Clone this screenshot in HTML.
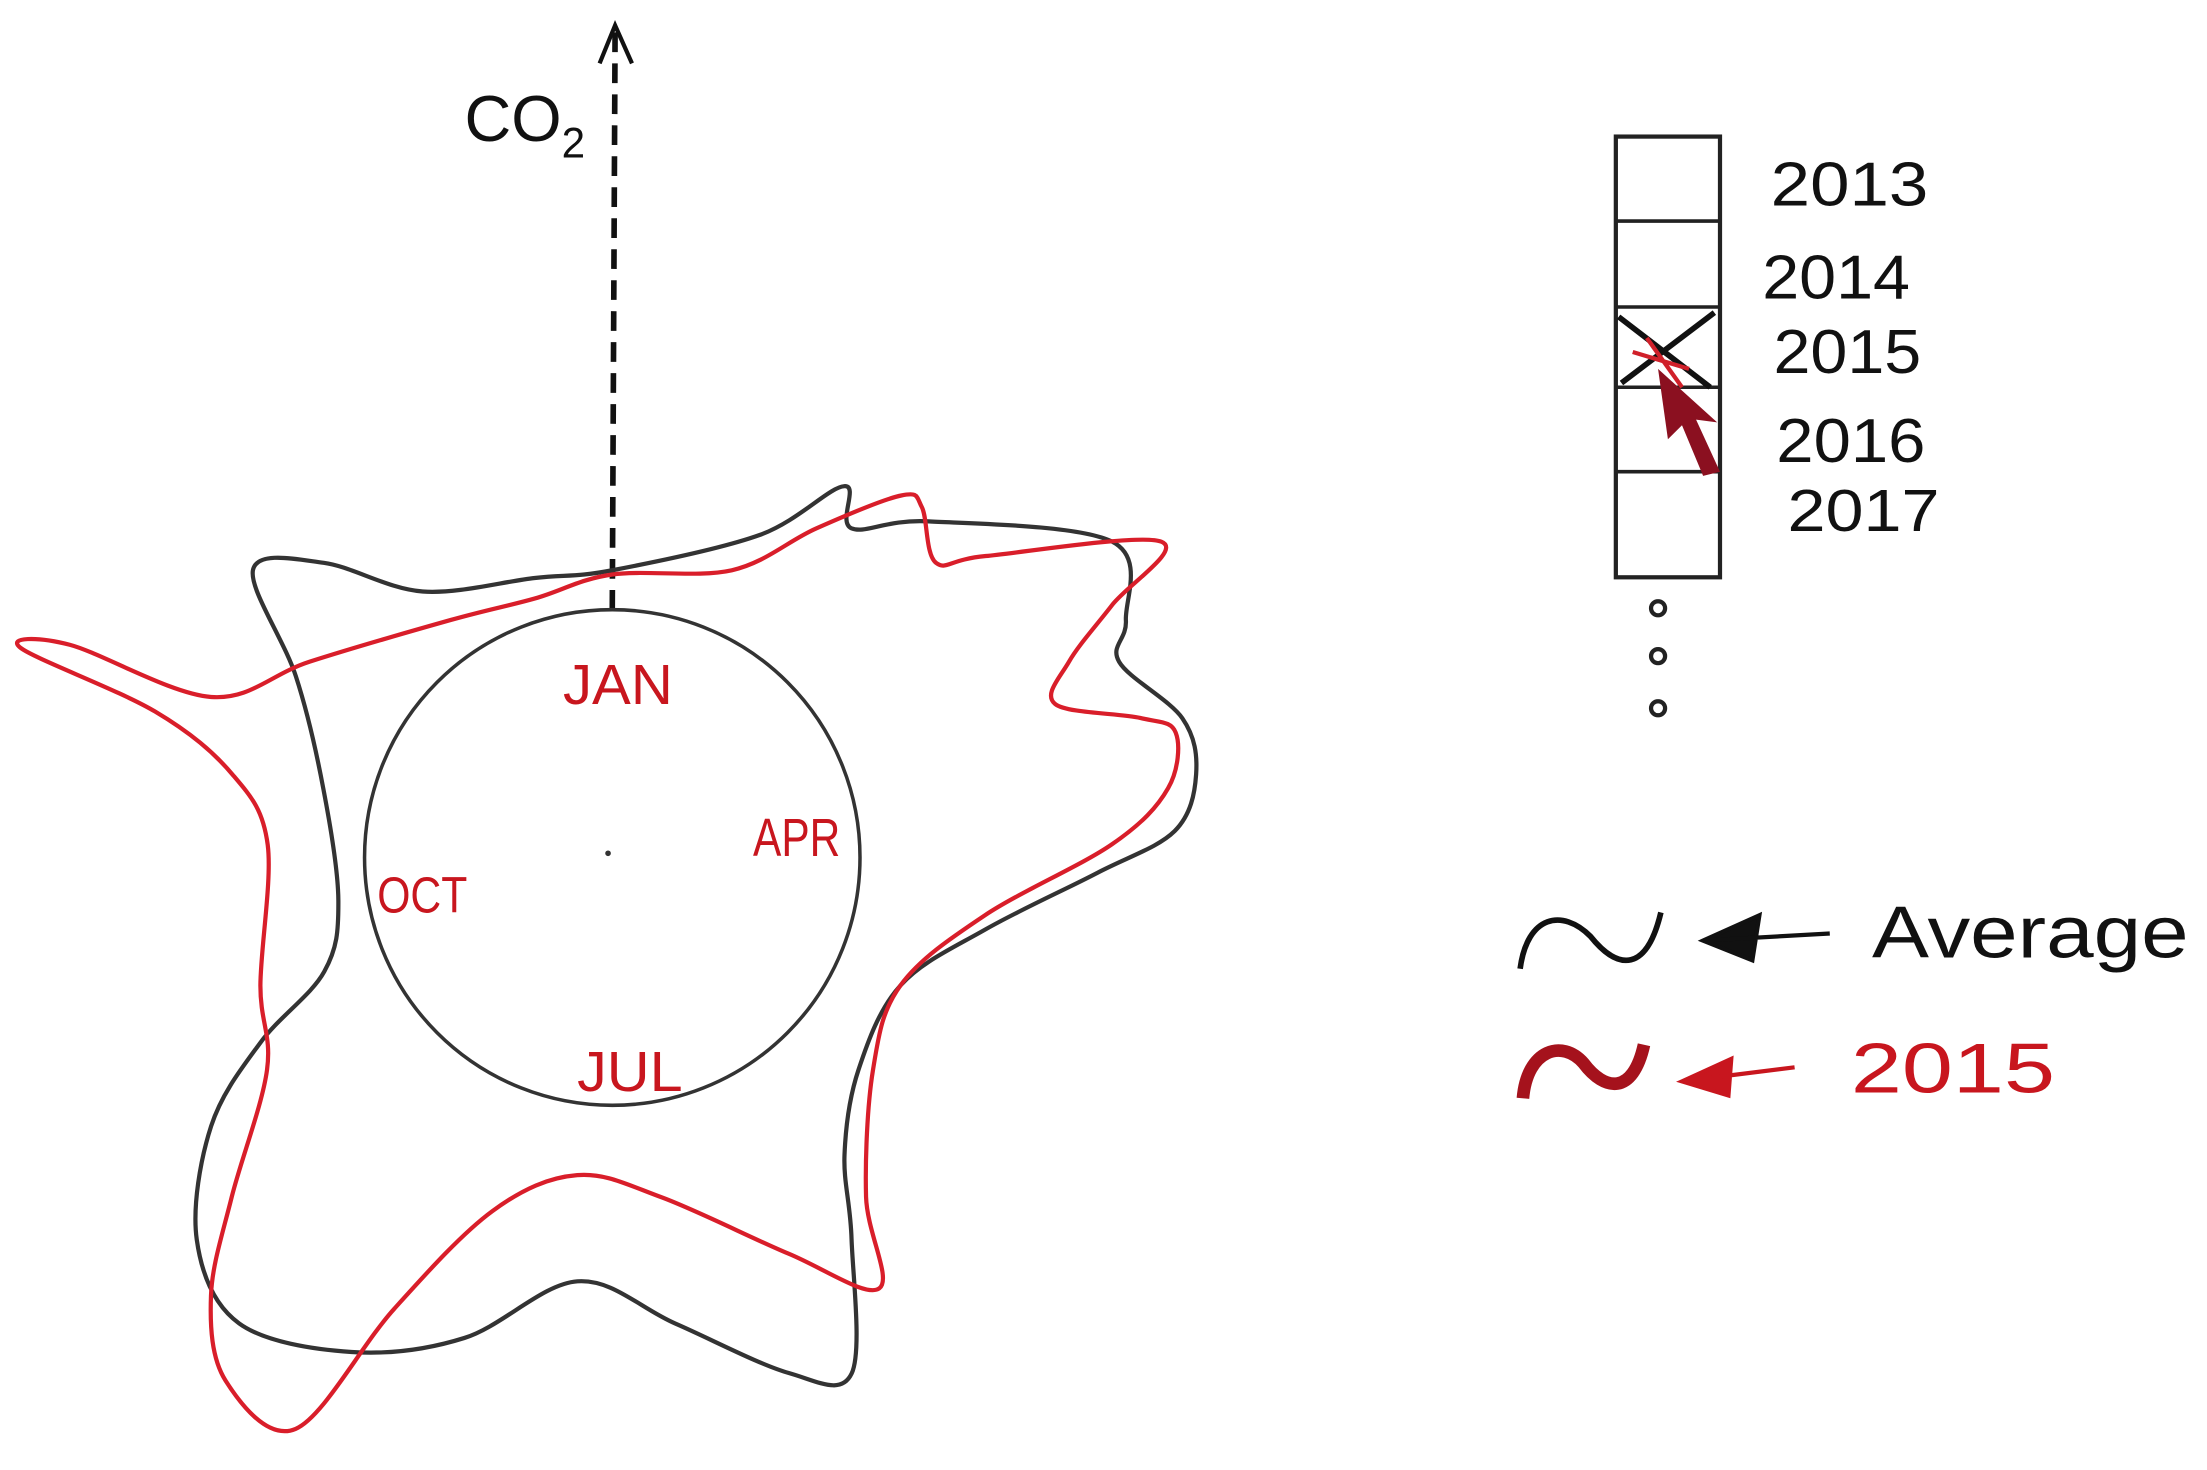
<!DOCTYPE html>
<html><head><meta charset="utf-8"><style>
html,body{margin:0;padding:0;background:#fff;}
svg{display:block;}
text{font-family:"Liberation Sans",sans-serif;}
</style></head><body>
<svg id="chart" width="2207" height="1470" viewBox="0 0 1568 1044" preserveAspectRatio="none" xmlns="http://www.w3.org/2000/svg">
<rect width="1568" height="1044" fill="#fff"/>
<g id="plot">
  <line x1="435" y1="433" x2="437" y2="22" stroke="#111" stroke-width="4" stroke-dasharray="14,8"/>
  <path d="M426 45 L437 18 L449 45" fill="none" stroke="#111" stroke-width="3"/>
  <text x="330" y="100" font-size="46" fill="#111">CO<tspan font-size="30" dy="12">2</tspan></text>
  <circle cx="435" cy="609" r="176" fill="none" stroke="#333" stroke-width="2.5"/>
  <circle cx="432" cy="606" r="2" fill="#333"/>
  <text x="400" y="500" font-size="40" fill="#c8161e" textLength="78" lengthAdjust="spacingAndGlyphs">JAN</text>
  <text x="535" y="608" font-size="38" fill="#c8161e" textLength="62" lengthAdjust="spacingAndGlyphs">APR</text>
  <text x="410" y="775" font-size="40" fill="#c8161e" textLength="75" lengthAdjust="spacingAndGlyphs">JUL</text>
  <text x="268" y="648" font-size="36" fill="#c8161e" textLength="64" lengthAdjust="spacingAndGlyphs">OCT</text>
</g>
<g id="legend">
  <rect x="1148" y="97" width="74" height="313" fill="none" stroke="#222" stroke-width="3"/>
  <line x1="1148" y1="157" x2="1222" y2="157" stroke="#222" stroke-width="2.5"/>
  <line x1="1148" y1="218" x2="1222" y2="218" stroke="#222" stroke-width="2.5"/>
  <line x1="1148" y1="275" x2="1222" y2="275" stroke="#222" stroke-width="2.5"/>
  <line x1="1148" y1="335" x2="1222" y2="335" stroke="#222" stroke-width="2.5"/>
  <rect x="1148" y="97" width="74" height="60" fill="transparent"/>
  <rect x="1148" y="157" width="74" height="61" fill="transparent"/>
  <rect x="1148" y="218" width="74" height="57" fill="transparent"/>
  <rect x="1148" y="275" width="74" height="60" fill="transparent"/>
  <rect x="1148" y="335" width="74" height="75" fill="transparent"/>
  <path d="M1150 225 L1215 275 M1218 222 L1152 272" stroke="#111" stroke-width="4" fill="none"/>
  <path d="M1178 262 L1220 300 L1205 298 L1222 335 L1210 338 L1195 302 L1185 312 Z" fill="#8b1020"/>
  <path d="M1160 250 L1200 262 M1170 240 L1195 275" stroke="#d0202a" stroke-width="3"/>
  <text x="1258" y="146" font-size="44" fill="#111" textLength="112" lengthAdjust="spacingAndGlyphs">2013</text>
  <text x="1252" y="212" font-size="44" fill="#111" textLength="105" lengthAdjust="spacingAndGlyphs">2014</text>
  <text x="1260" y="265" font-size="44" fill="#111" textLength="105" lengthAdjust="spacingAndGlyphs">2015</text>
  <text x="1262" y="328" font-size="44" fill="#111" textLength="106" lengthAdjust="spacingAndGlyphs">2016</text>
  <text x="1270" y="377" font-size="42" fill="#111" textLength="108" lengthAdjust="spacingAndGlyphs">2017</text>
  <circle cx="1178" cy="432" r="5" fill="none" stroke="#222" stroke-width="3"/>
  <circle cx="1178" cy="466" r="5" fill="none" stroke="#222" stroke-width="3"/>
  <circle cx="1178" cy="503" r="5" fill="none" stroke="#222" stroke-width="3"/>
</g>
<g id="series-legend">
  <path d="M1080 688 C1085 650 1110 645 1130 665 C1150 690 1170 690 1180 648" fill="none" stroke="#111" stroke-width="4"/>
  <path d="M1300 663 L1210 668 M1210 668 L1250 650 L1245 682 Z" stroke="#111" stroke-width="3" fill="#111"/>
  <text x="1330" y="680" font-size="52" fill="#111" textLength="225" lengthAdjust="spacingAndGlyphs">Average</text>
  <path d="M1082 780 C1085 745 1110 738 1125 755 C1140 775 1160 778 1168 742" fill="none" stroke="#a5121c" stroke-width="9"/>
  <path d="M1275 758 L1195 768 M1195 768 L1230 752 L1228 778 Z" stroke="#c8161e" stroke-width="3" fill="#c8161e"/>
  <text x="1315" y="776" font-size="50" fill="#c8161e" textLength="145" lengthAdjust="spacingAndGlyphs">2015</text>
</g>
<g id="series"></g>
</svg>
<script>
// Polar data: angle in degrees clockwise from JAN (top); value = radial CO2 level
const avgAngles = [0,24.6,32,36,43.3,57.7,65.2,68.9,76.3,81.9,87.3,91.8,100.9,113.9,130.8,142,147.9,155.1,161.1,172.3,184.7,197.1,207.8,218.7,227.4,236.2,242.3,248.4,261,283.4,299.8,308.7,315.6,324.5,344.5];
const avgValues = [204,252,311,289,328,420,402,386,417,419,400,345,270,224,231,268,320,404,387,334,302,357,397,424,401,343,282,220,197,211,259,327,293,232,206];
const y2015Angles = [0,22.6,31.8,38.6,41.5,47.7,51.1,60.1,63.2,66.8,70.9,75.2,77.5,82.9,88.5,98.8,113.9,129.2,143.2,148.2,156,171.7,186.3,198.7,205.8,209,216.5,222.5,228.3,238.4,250,272.1,282.3,287.7,289.5,291.4,291.8,302.9,325.8,343.4];
const y2015Values = [201,221,275,329,332,311,341,450,398,353,333,388,410,398,355,268,224,239,301,360,308,244,227,265,356,464,462,422,362,288,266,245,276,341,446,414,307,256,204,192];

const CX = 435, CY = 609;
function rScale(v){ return v; }
function px(a, v){ return CX + rScale(v) * Math.sin(a * Math.PI / 180); }
function py(a, v){ return CY - rScale(v) * Math.cos(a * Math.PI / 180); }
function closedPath(angles, values){
  const p = angles.map((a,i)=>[px(a,values[i]), py(a,values[i])]);
  const n = p.length;
  let d = 'M' + p[0][0].toFixed(1) + ' ' + p[0][1].toFixed(1);
  for (let i=0;i<n;i++){
    const p0=p[(i-1+n)%n], p1=p[i], p2=p[(i+1)%n], p3=p[(i+2)%n];
    const c1x=p1[0]+(p2[0]-p0[0])/6, c1y=p1[1]+(p2[1]-p0[1])/6;
    const c2x=p2[0]-(p3[0]-p1[0])/6, c2y=p2[1]-(p3[1]-p1[1])/6;
    d += ' C'+c1x.toFixed(1)+' '+c1y.toFixed(1)+' '+c2x.toFixed(1)+' '+c2y.toFixed(1)+' '+p2[0].toFixed(1)+' '+p2[1].toFixed(1);
  }
  return d + 'Z';
}
const NS = 'http://www.w3.org/2000/svg';
const g = document.getElementById('series');
const avg = document.createElementNS(NS, 'path');
avg.setAttribute('d', closedPath(avgAngles, avgValues));
avg.setAttribute('fill', 'none');
avg.setAttribute('stroke', '#333');
avg.setAttribute('stroke-width', '3');


g.appendChild(avg);
const red = document.createElementNS(NS, 'path');
red.setAttribute('d', closedPath(y2015Angles, y2015Values));
red.setAttribute('fill', 'none');
red.setAttribute('stroke', '#d91e2a');
red.setAttribute('stroke-width', '3');


g.appendChild(red);
</script>
</body></html>
